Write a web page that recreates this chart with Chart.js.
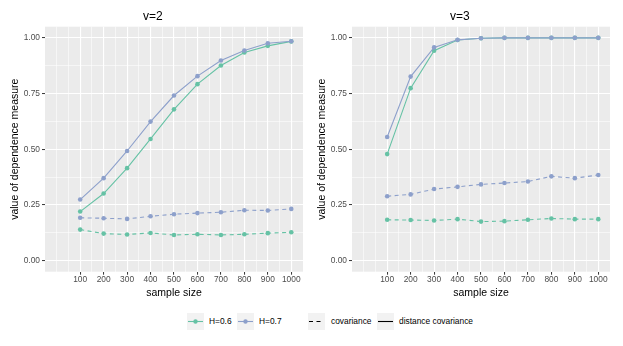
<!DOCTYPE html>
<html lang="en">
<head>
    <meta charset="UTF-8">
    <title>dependence measure by sample size</title>
    <script src="https://cdn.jsdelivr.net/npm/chart.js"></script>
    <style>
        body { margin: 0; background: #fff; font-family: "Liberation Sans", Arial, sans-serif; }
        #wrap { position: relative; width: 623px; height: 346px; }
        canvas { position: absolute; top: 0; }
        .key { position: absolute; top: 313px; width: 17px; height: 17px; background: #f2f2f2; }
        .lab { position: absolute; top: 313px; line-height: 17px; font-size: 8.4px; color: #000; white-space: nowrap; }
    </style>
</head>
<body>
<div id="wrap">
    <canvas id="chartV2" width="307" height="300" style="left:0"></canvas>
    <canvas id="chartV3" width="307" height="300" style="left:307px"></canvas>

    <div class="key" style="left:187px"><svg width="17" height="17"><line x1="1" y1="8.5" x2="16" y2="8.5" stroke="#66c2a5" stroke-width="1.1"/><circle cx="8.5" cy="8.5" r="2.2" fill="#66c2a5"/></svg></div>
    <span class="lab" style="left:209px">H=0.6</span>
    <div class="key" style="left:237px"><svg width="17" height="17"><line x1="1" y1="8.5" x2="16" y2="8.5" stroke="#8da0cb" stroke-width="1.1"/><circle cx="8.5" cy="8.5" r="2.2" fill="#8da0cb"/></svg></div>
    <span class="lab" style="left:259px">H=0.7</span>
    <div class="key" style="left:308px"><svg width="17" height="17"><line x1="1" y1="8.5" x2="16" y2="8.5" stroke="#000" stroke-width="1.1" stroke-dasharray="4 3.5"/></svg></div>
    <span class="lab" style="left:331px">covariance</span>
    <div class="key" style="left:377px"><svg width="17" height="17"><line x1="1" y1="8.5" x2="16" y2="8.5" stroke="#000" stroke-width="1.1"/></svg></div>
    <span class="lab" style="left:399px">distance covariance</span>
</div>

<script>
    // sample sizes on the x axis
    var sampleSizes = [100, 200, 300, 400, 500, 600, 700, 800, 900, 1000];

    // v=2 panel
    var dcovH06_v2 = [0.220, 0.301, 0.415, 0.546, 0.679, 0.792, 0.876, 0.934, 0.964, 0.984];
    var dcovH07_v2 = [0.274, 0.370, 0.492, 0.624, 0.741, 0.828, 0.898, 0.943, 0.976, 0.985];
    var covH06_v2 = [0.139, 0.121, 0.117, 0.124, 0.115, 0.118, 0.115, 0.118, 0.123, 0.127];
    var covH07_v2 = [0.192, 0.190, 0.187, 0.199, 0.208, 0.213, 0.217, 0.226, 0.225, 0.232];

    // v=3 panel
    var dcovH06_v3 = [0.478, 0.774, 0.942, 0.990, 0.998, 1.000, 1.000, 1.000, 1.000, 1.000];
    var dcovH07_v3 = [0.555, 0.826, 0.957, 0.991, 0.998, 1.000, 1.000, 1.000, 1.000, 1.000];
    var covH06_v3 = [0.183, 0.182, 0.180, 0.186, 0.175, 0.177, 0.183, 0.189, 0.186, 0.186];
    var covH07_v3 = [0.289, 0.297, 0.321, 0.331, 0.342, 0.348, 0.355, 0.378, 0.370, 0.384];

    // axis breaks (major ones get labels, the rest are minor grid lines)
    var xTicks = [0, 50, 100, 150, 200, 250, 300, 350, 400, 450, 500, 550, 600, 650, 700, 750, 800, 850, 900, 950, 1000];
    var xLabels = [100, 200, 300, 400, 500, 600, 700, 800, 900, 1000];
    var yTicks = [0, 0.125, 0.25, 0.375, 0.5, 0.625, 0.75, 0.875, 1];
    var yLabels = [0, 0.25, 0.5, 0.75, 1];

    var green = '#66c2a5';
    var purple = '#8da0cb';
    var font = '"Liberation Sans", Arial, sans-serif';

    function isMajorX(v) { return xLabels.indexOf(v) >= 0; }
    function isMajorY(v) { return yLabels.some(function (l) { return Math.abs(l - v) < 1e-9; }); }

    function points(values) {
        return sampleSizes.map(function (s, i) { return { x: s, y: values[i] }; });
    }

    function series(values, color, dashed) {
        return {
            data: points(values),
            borderColor: color,
            backgroundColor: color,
            borderWidth: 1.1,
            borderDash: dashed ? [4, 3.5] : [],
            pointRadius: 2.3,
            pointBorderWidth: 0,
            pointBackgroundColor: color,
            tension: 0
        };
    }

    // grey panel behind the grid
    var panelBg = {
        id: 'panelBg',
        beforeDraw: function (chart) {
            var a = chart.chartArea;
            var c = chart.ctx;
            c.save();
            c.fillStyle = '#ebebeb';
            c.fillRect(a.left, a.top, a.right - a.left, a.bottom - a.top);
            c.restore();
        }
    };

    function makeChart(id, title, sets) {
        return new Chart(document.getElementById(id).getContext('2d'), {
            type: 'line',
            data: { datasets: sets },
            plugins: [panelBg],
            options: {
                responsive: false,
                animation: false,
                devicePixelRatio: 1,
                layout: { padding: { left: 0, right: 1.5, top: 0, bottom: 0 } },
                plugins: {
                    legend: { display: false },
                    tooltip: { enabled: false },
                    title: {
                        display: true,
                        text: title,
                        color: '#000',
                        font: { family: font, size: 12, weight: 'normal' },
                        padding: { top: 9, bottom: 3.3 }
                    }
                },
                scales: {
                    x: {
                        type: 'linear',
                        min: -50,
                        max: 1050,
                        afterBuildTicks: function (scale) {
                            scale.ticks = xTicks.map(function (v) { return { value: v }; });
                        },
                        afterFit: function (scale) { scale.height = 28.3; },
                        border: { display: false },
                        grid: {
                            color: '#ffffff',
                            lineWidth: function (ctx) { return ctx.tick && isMajorX(ctx.tick.value) ? 1.1 : 0.55; },
                            tickColor: function (ctx) { return ctx.tick && isMajorX(ctx.tick.value) ? '#333333' : 'rgba(0,0,0,0)'; },
                            tickLength: 3,
                            tickWidth: 1
                        },
                        ticks: {
                            autoSkip: false,
                            maxRotation: 0,
                            padding: 0,
                            color: '#4d4d4d',
                            font: { family: font, size: 8.4 },
                            callback: function (v) { return isMajorX(v) ? String(v) : ''; }
                        },
                        title: {
                            display: true,
                            text: 'sample size',
                            color: '#000',
                            font: { family: font, size: 10.5 },
                            padding: { top: 0, bottom: 1 }
                        }
                    },
                    y: {
                        type: 'linear',
                        min: -0.05,
                        max: 1.05,
                        afterBuildTicks: function (scale) {
                            scale.ticks = yTicks.map(function (v) { return { value: v }; });
                        },
                        afterFit: function (scale) { scale.width = 45; },
                        border: { display: false },
                        grid: {
                            color: '#ffffff',
                            lineWidth: function (ctx) { return ctx.tick && isMajorY(ctx.tick.value) ? 1.1 : 0.55; },
                            tickColor: function (ctx) { return ctx.tick && isMajorY(ctx.tick.value) ? '#333333' : 'rgba(0,0,0,0)'; },
                            tickLength: 3,
                            tickWidth: 1
                        },
                        ticks: {
                            autoSkip: false,
                            padding: 2,
                            color: '#4d4d4d',
                            font: { family: font, size: 8.4 },
                            callback: function (v) { return isMajorY(v) ? v.toFixed(2) : ''; }
                        },
                        title: {
                            display: true,
                            text: 'value of dependence measure',
                            color: '#000',
                            font: { family: font, size: 10.5 },
                            padding: { top: 8.7, bottom: 0 }
                        }
                    }
                }
            }
        });
    }

    // Chart.js paints the first dataset on top, so purple solid comes first
    makeChart('chartV2', 'v=2', [
        series(dcovH07_v2, purple, false),
        series(dcovH06_v2, green, false),
        series(covH07_v2, purple, true),
        series(covH06_v2, green, true)
    ]);

    makeChart('chartV3', 'v=3', [
        series(dcovH07_v3, purple, false),
        series(dcovH06_v3, green, false),
        series(covH07_v3, purple, true),
        series(covH06_v3, green, true)
    ]);
</script>
</body>
</html>
